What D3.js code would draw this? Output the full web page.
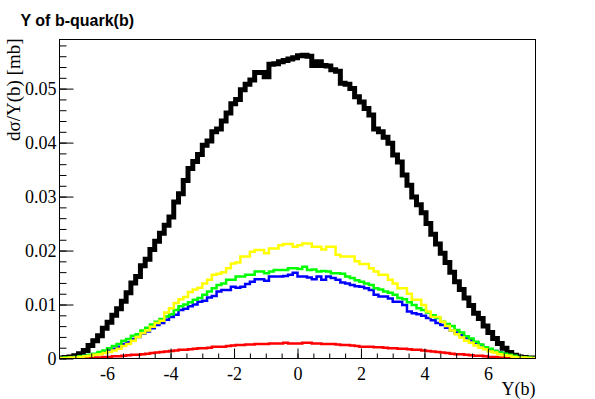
<!DOCTYPE html>
<html>
<head>
<meta charset="utf-8">
<script src="https://cdn.jsdelivr.net/npm/d3@7"></script>
<style>
  html, body { margin: 0; padding: 0; background: #fff; }
  svg { display: block; }
  .serif, .serif text { font-family: "Liberation Serif", "Times New Roman", Times, serif !important; font-size: 18px; }
</style>
</head>
<body>
<svg id="chart" width="595" height="399"></svg>
<script>
// ---- data ----
const xRange = [-7.5, 7.5];
const nBins = 100;
const yMaxAxis = 0.0591;

const xTickValues = [-6, -4, -2, 0, 2, 4, 6];
const xTickLabels = ["-6", "-4", "-2", "0", "2", "4", "6"];
const yTickValues = [0, 0.01, 0.02, 0.03, 0.04, 0.05];
const yTickLabels = ["0", "0.01", "0.02", "0.03", "0.04", "0.05"];

const seriesNames = ["total", "red", "blue", "green", "yellow"];

const blackValues = [
  0.0001, 0.0002, 0.0003, 0.0005, 0.0009, 0.0015, 0.0024, 0.0033, 0.0042, 0.0056,
  0.0067, 0.0080, 0.0092, 0.0106, 0.0122, 0.0140, 0.0152, 0.0172, 0.0184, 0.0202,
  0.0217, 0.0232, 0.0247, 0.0262, 0.0290, 0.0305, 0.0330, 0.0352, 0.0365, 0.0378,
  0.0395, 0.0403, 0.0420, 0.0425, 0.0440, 0.0455, 0.0472, 0.0480, 0.0498, 0.0508,
  0.0516, 0.0530, 0.0530, 0.0522, 0.0545, 0.0546, 0.0550, 0.0552, 0.0555, 0.0557,
  0.0561, 0.0562, 0.0560, 0.0543, 0.0550, 0.0543, 0.0542, 0.0535, 0.0532, 0.0510,
  0.0508, 0.0500, 0.0485, 0.0475, 0.0463, 0.0451, 0.0425, 0.0420, 0.0410, 0.0399,
  0.0377, 0.0364, 0.0340, 0.0321, 0.0299, 0.0285, 0.0270, 0.0250, 0.0230, 0.0212,
  0.0195, 0.0178, 0.0160, 0.0142, 0.0128, 0.0112, 0.0098, 0.0084, 0.0074, 0.0060,
  0.0048, 0.0037, 0.0028, 0.0019, 0.0011, 0.0006, 0.0003, 0.0002, 0.0001, 0.0001
];

const yellowValues = [
  0.0001, 0.0001, 0.0002, 0.0002, 0.0003, 0.0004, 0.0005, 0.0007, 0.0008, 0.0010,
  0.0012, 0.0015, 0.0018, 0.0023, 0.0027, 0.0033, 0.0040, 0.0047, 0.0052, 0.0059,
  0.0066, 0.0070, 0.0085, 0.0093, 0.0103, 0.0110, 0.0114, 0.0123, 0.0128, 0.0131,
  0.0139, 0.0146, 0.0155, 0.0157, 0.0160, 0.0167, 0.0176, 0.0178, 0.0189, 0.0189,
  0.0198, 0.0201, 0.0201, 0.0195, 0.0204, 0.0204, 0.0210, 0.0212, 0.0212, 0.0207,
  0.0210, 0.0213, 0.0213, 0.0207, 0.0207, 0.0202, 0.0207, 0.0207, 0.0192, 0.0189,
  0.0189, 0.0189, 0.0180, 0.0175, 0.0175, 0.0167, 0.0161, 0.0155, 0.0155, 0.0146,
  0.0139, 0.0130, 0.0130, 0.0120, 0.0109, 0.0109, 0.0099, 0.0087, 0.0077, 0.0077,
  0.0068, 0.0060, 0.0052, 0.0045, 0.0039, 0.0033, 0.0029, 0.0024, 0.0020, 0.0017,
  0.0013, 0.0011, 0.0008, 0.0006, 0.0005, 0.0003, 0.0002, 0.0002, 0.0001, 0.0001
];

const greenValues = [
  0.0001, 0.0002, 0.0002, 0.0003, 0.0004, 0.0005, 0.0007, 0.0009, 0.0012, 0.0015,
  0.0019, 0.0023, 0.0027, 0.0033, 0.0036, 0.0042, 0.0045, 0.0052, 0.0057, 0.0063,
  0.0068, 0.0073, 0.0078, 0.0082, 0.0090, 0.0097, 0.0100, 0.0104, 0.0109, 0.0112,
  0.0118, 0.0124, 0.0130, 0.0136, 0.0139, 0.0146, 0.0146, 0.0152, 0.0152, 0.0155,
  0.0155, 0.0161, 0.0161, 0.0158, 0.0161, 0.0164, 0.0164, 0.0164, 0.0167, 0.0167,
  0.0166, 0.0170, 0.0164, 0.0165, 0.0161, 0.0162, 0.0161, 0.0158, 0.0158, 0.0157,
  0.0152, 0.0149, 0.0145, 0.0142, 0.0139, 0.0136, 0.0130, 0.0128, 0.0124, 0.0122,
  0.0118, 0.0112, 0.0110, 0.0104, 0.0099, 0.0093, 0.0090, 0.0085, 0.0080, 0.0075,
  0.0068, 0.0064, 0.0060, 0.0053, 0.0048, 0.0041, 0.0037, 0.0031, 0.0026, 0.0021,
  0.0018, 0.0014, 0.0011, 0.0009, 0.0007, 0.0005, 0.0003, 0.0002, 0.0002, 0.0001
];

const blueValues = [
  0.0001, 0.0001, 0.0002, 0.0003, 0.0004, 0.0005, 0.0006, 0.0008, 0.0010, 0.0012,
  0.0015, 0.0018, 0.0022, 0.0027, 0.0030, 0.0036, 0.0040, 0.0046, 0.0050, 0.0056,
  0.0062, 0.0066, 0.0072, 0.0077, 0.0081, 0.0090, 0.0092, 0.0097, 0.0100, 0.0105,
  0.0107, 0.0113, 0.0116, 0.0124, 0.0127, 0.0127, 0.0133, 0.0131, 0.0133, 0.0138,
  0.0142, 0.0147, 0.0147, 0.0144, 0.0152, 0.0152, 0.0152, 0.0153, 0.0155, 0.0159,
  0.0152, 0.0152, 0.0150, 0.0147, 0.0152, 0.0146, 0.0152, 0.0149, 0.0146, 0.0141,
  0.0139, 0.0136, 0.0134, 0.0133, 0.0130, 0.0127, 0.0118, 0.0115, 0.0115, 0.0111,
  0.0105, 0.0105, 0.0099, 0.0087, 0.0084, 0.0082, 0.0079, 0.0075, 0.0071, 0.0066,
  0.0062, 0.0057, 0.0052, 0.0048, 0.0043, 0.0038, 0.0034, 0.0029, 0.0025, 0.0021,
  0.0017, 0.0014, 0.0011, 0.0008, 0.0006, 0.0004, 0.0003, 0.0002, 0.0001, 0.0001
];

const redValues = [
  0.00003, 0.00005, 0.00007, 0.0001, 0.0001, 0.00012, 0.00015, 0.0002, 0.0002, 0.0003,
  0.0003, 0.0004, 0.0004, 0.0005, 0.0006, 0.0007, 0.0007, 0.0008, 0.0009, 0.0010,
  0.0011, 0.0012, 0.0013, 0.0014, 0.0015, 0.0016, 0.0016, 0.0017, 0.0018, 0.0019,
  0.0019, 0.0020, 0.0022, 0.0022, 0.0022, 0.0023, 0.0024, 0.0025, 0.0025, 0.0026,
  0.0026, 0.0027, 0.0027, 0.0027, 0.0028, 0.0028, 0.0028, 0.0029, 0.0028, 0.0028,
  0.0028, 0.0029, 0.0029, 0.0028, 0.0028, 0.0027, 0.0027, 0.0027, 0.0026, 0.0025,
  0.0025, 0.0024, 0.0023, 0.0022, 0.0022, 0.0022, 0.0021, 0.0021, 0.0020, 0.0019,
  0.0019, 0.0018, 0.0018, 0.0017, 0.0016, 0.0016, 0.0015, 0.0014, 0.0013, 0.0012,
  0.0011, 0.0010, 0.0009, 0.0008, 0.0008, 0.0007, 0.0006, 0.0005, 0.0005, 0.0004,
  0.0003, 0.0003, 0.0002, 0.0002, 0.0001, 0.0001, 0.0001, 0.00005, 0.00003, 0.00002
];

const seriesValues = [blackValues, redValues, blueValues, greenValues, yellowValues];
const seriesColors = ["#000000", "#ff0000", "#0000ff", "#00ff00", "#ffff00"];
const seriesWidths = [5, 2.5, 2.5, 2.5, 2.5];

// ---- layout ----
const W = 595, H = 399;
const mLeft = 59.5, mRight = 535.5, mTop = 39.5, mBottom = 358.5;
const fontSerif = "'Liberation Serif', 'Times New Roman', Times, serif";
const fontSans = "'Liberation Sans', Arial, Helvetica, sans-serif";

const svg = d3.select("#chart");
svg.append("rect").attr("width", W).attr("height", H).attr("fill", "#fff");

const x = d3.scaleLinear().domain(xRange).range([mLeft, mRight]);
const y = d3.scaleLinear().domain([0, yMaxAxis]).range([mBottom, mTop]);

svg.append("clipPath").attr("id", "plotclip")
  .append("rect").attr("x", mLeft).attr("y", mTop - 3)
  .attr("width", mRight - mLeft).attr("height", mBottom - mTop + 3);

const binW = (xRange[1] - xRange[0]) / nBins;
const stepLine = d3.line()
  .x(d => x(d[0]))
  .y(d => y(d[1]))
  .curve(d3.curveStepAfter);

const plot = svg.append("g").attr("clip-path", "url(#plotclip)");
seriesValues.forEach((vals, k) => {
  const pts = vals.map((v, i) => [xRange[0] + i * binW, v]);
  pts.push([xRange[1], vals[vals.length - 1]]);
  plot.append("path")
    .attr("d", stepLine(pts))
    .attr("fill", "none")
    .attr("stroke", seriesColors[k])
    .attr("stroke-width", seriesWidths[k])
    .attr("stroke-linejoin", "miter")
    .attr("stroke-linecap", "butt")
    .attr("data-series", seriesNames[k]);
});

// ---- frame ----
svg.append("rect")
  .attr("x", mLeft).attr("y", mTop)
  .attr("width", mRight - mLeft).attr("height", mBottom - mTop)
  .attr("fill", "none").attr("stroke", "#000").attr("stroke-width", 1);

// ---- axes ----
const xMinorTicks = d3.range(-7, 7.01, 0.5);
const xMinor = d3.axisBottom(x).tickValues(xMinorTicks).tickSize(-5).tickFormat("");
const gxm = svg.append("g").attr("transform", `translate(0,${mBottom})`).call(xMinor);
gxm.select(".domain").remove();

const xMajor = d3.axisBottom(x).tickValues(xTickValues).tickSize(-10)
  .tickFormat((d, i) => xTickLabels[i]).tickPadding(9);
const gx = svg.append("g").attr("class", "serif").attr("transform", `translate(0,${mBottom})`).call(xMajor);
gx.select(".domain").remove();
gx.attr("font-family", fontSerif).attr("font-size", 18);
gx.selectAll("text").attr("font-family", fontSerif).style("font-family", fontSerif).style("font-size", "18px").attr("fill", "#000");

const yMinorTicks = d3.range(0, 0.0591, 0.002);
const yMinor = d3.axisLeft(y).tickValues(yMinorTicks).tickSize(-7).tickFormat("");
const gym = svg.append("g").attr("transform", `translate(${mLeft},0)`).call(yMinor);
gym.select(".domain").remove();

const yMajor = d3.axisLeft(y).tickValues(yTickValues).tickSize(-14)
  .tickFormat((d, i) => yTickLabels[i]).tickPadding(3);
const gy = svg.append("g").attr("class", "serif").attr("transform", `translate(${mLeft},0)`).call(yMajor);
gy.select(".domain").remove();
gy.attr("font-family", fontSerif).attr("font-size", 18);
gy.selectAll("text").attr("font-family", fontSerif).style("font-family", fontSerif).style("font-size", "18px").attr("fill", "#000");

svg.selectAll(".tick line").attr("stroke", "#000").attr("stroke-width", 1);

// ---- titles ----
svg.append("text")
  .attr("x", 20.5).attr("y", 25.5)
  .style("font-family", fontSans)
  .style("font-weight", "bold").style("font-size", "16px")
  .attr("fill", "#000")
  .text("Y of b-quark(b)");

svg.append("text")
  .attr("x", mRight).attr("y", 395)
  .attr("text-anchor", "end")
  .style("font-family", fontSerif).style("font-size", "18px")
  .attr("fill", "#000")
  .text("Y(b)");

svg.append("text")
  .attr("transform", `translate(20,${mTop - 1}) rotate(-90)`)
  .attr("text-anchor", "end")
  .style("font-family", fontSerif).style("font-size", "19px")
  .attr("fill", "#000")
  .text("dσ/Y(b) [mb]");
</script>
</body>
</html>
